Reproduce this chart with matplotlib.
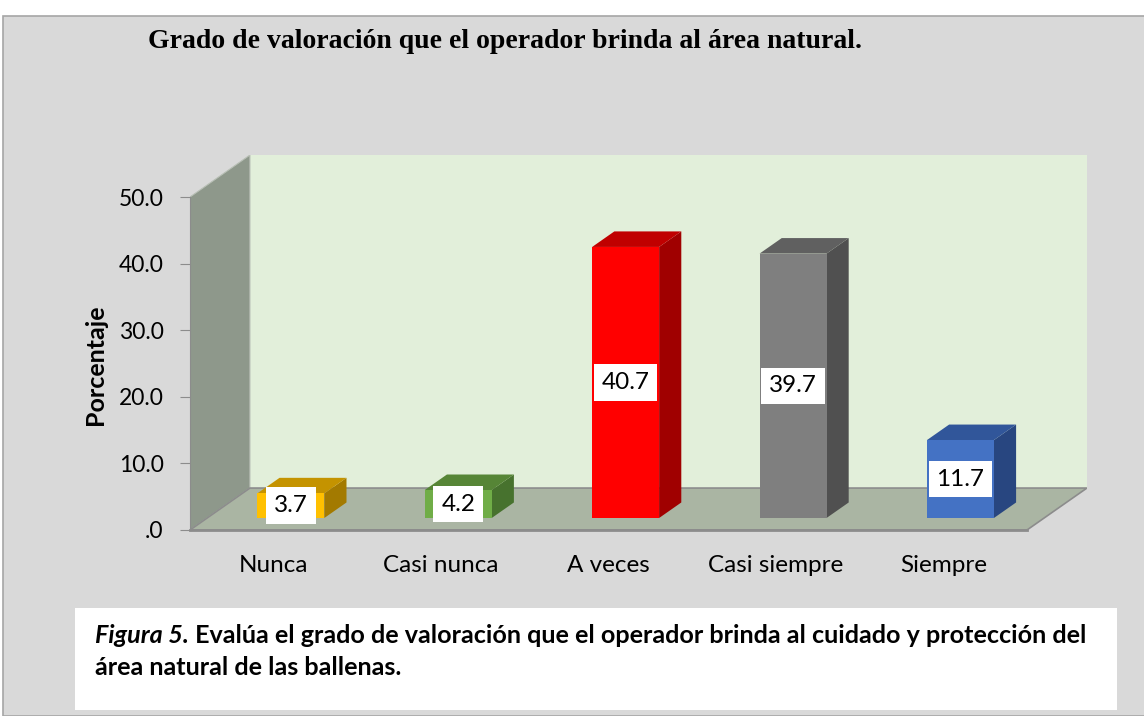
import matplotlib
matplotlib.use("Agg")
import matplotlib.pyplot as plt
from matplotlib.patches import Polygon, Rectangle
from matplotlib.text import Annotation
import numpy as np

categories = ["Nunca", "Casi nunca", "A veces", "Casi siempre", "Siempre"]
values = [3.7, 4.2, 40.7, 39.7, 11.7]
front_colors = ["#FFC000", "#70AD47", "#FF0000", "#7F7F7F", "#4472C4"]
top_colors = ["#C49300", "#568536", "#C00000", "#606060", "#31569A"]
side_colors = ["#A37A00", "#47722E", "#A00000", "#505050", "#284680"]
y_ticks = [0, 10, 20, 30, 40, 50]
title = "Grado de valoración que el operador brinda al área natural."
caption_head = "Figura 5."
caption_body = " Evalúa el grado de valoración que el operador brinda al cuidado y protección del"
caption_line2 = "área natural de las ballenas."

W, H = 1144, 716
SANS = ["Lato", "DejaVu Sans"]
SERIF = ["Liberation Serif", "DejaVu Serif"]

# pseudo 3d geometry (category units / percent units)
ymax = 50
DX, DY = 0.358, 6.3          # full depth of the floor
f0, depth, w = 0.286, 0.37, 0.40
px_cat, px_val = 167.4, 6.66  # pixels per category / per percent
x0_px, y0_px = 190, 530       # front-left corner of the floor


def fx(px):
    return px / W


def fy(py):
    return 1 - py / H


fig = plt.figure(figsize=(W / 100, H / 100), dpi=100)
fig.patch.set_facecolor("white")
fig.patches.append(Rectangle((fx(3), 0), fx(1150), fy(16), transform=fig.transFigure,
                             facecolor="#D9D9D9", edgecolor="#A6A6A6", linewidth=1.2, zorder=-2))
fig.patches.append(Rectangle((fx(75), fy(710)), fx(1117 - 75), (710 - 608) / H,
                             transform=fig.transFigure, facecolor="white", edgecolor="none", zorder=-1))

n = len(categories)
ax_w = (n + DX) * px_cat
ax_h = (ymax + DY) * px_val
ax = fig.add_axes([fx(x0_px), fy(y0_px), ax_w / W, ax_h / H])
ax.set_xlim(0, n + DX)
ax.set_ylim(0, ymax + DY)
ax.patch.set_alpha(0)

# walls and floor
ax.add_patch(Polygon([(DX, DY), (n + DX, DY), (n + DX, ymax + DY), (DX, ymax + DY)],
                     closed=True, facecolor="#E2EFDA", edgecolor="none", zorder=1))
ax.add_patch(Polygon([(0, 0), (DX, DY), (DX, ymax + DY), (0, ymax)],
                     closed=True, facecolor="#8E988B", edgecolor="#B8BFB5", linewidth=0.8, zorder=1))
ax.add_patch(Polygon([(0, 0), (n, 0), (n + DX, DY), (DX, DY)],
                     closed=True, facecolor="#AAB5A3", edgecolor="#8C8C8C", linewidth=1.2, zorder=2))

# bars
centers = np.arange(n) + 0.5 + f0 * DX
base = f0 * DY
ax.bar(centers, values, width=w, bottom=base, color=front_colors, zorder=5)
for c, v, tc, sc in zip(centers, values, top_colors, side_colors):
    xl, xr, yt = c - w / 2, c + w / 2, base + v
    ddx, ddy = depth * DX, depth * DY
    ax.add_patch(Polygon([(xr, base), (xr + ddx, base + ddy), (xr + ddx, yt + ddy), (xr, yt)],
                         closed=True, facecolor=sc, edgecolor="none", zorder=4))
    ax.add_patch(Polygon([(xl, yt), (xr, yt), (xr + ddx, yt + ddy), (xl + ddx, yt + ddy)],
                         closed=True, facecolor=tc, edgecolor="none", zorder=4))
    ax.text(c, base + v / 2, f"{v:.1f}", ha="center", va="center", fontsize=17.5,
            family=SANS, zorder=7,
            bbox=dict(boxstyle="square,pad=0.32", facecolor="white", edgecolor="none"))

# axes
for s in ["top", "right"]:
    ax.spines[s].set_visible(False)
ax.spines["left"].set_bounds(0, ymax)
ax.spines["left"].set_color("#8C8C8C")
ax.spines["bottom"].set_bounds(0, n)
ax.spines["bottom"].set_color("#8C8C8C")
ax.spines["bottom"].set_linewidth(2)
ax.spines["left"].set_zorder(3)
ax.set_yticks(y_ticks)
ax.set_yticklabels([f"{t:.1f}" if t else ".0" for t in y_ticks], family=SANS, fontsize=16.5)
ax.tick_params(axis="y", length=7, color="#8C8C8C", pad=12)
ax.set_xticks(np.arange(n) + 0.5)
ax.set_xticklabels(categories, family=SANS, fontsize=17.5)
ax.tick_params(axis="x", length=0, pad=18)
ax.set_ylabel("Porcentaje", family=SANS, fontsize=18, fontweight="bold")
ax.yaxis.set_label_coords((107 - x0_px) / ax_w, (y0_px - 365) / ax_h)

fig.text(fx(148), fy(41), title, family=SERIF, fontsize=20, fontweight="bold", va="center")

# caption
head = fig.text(fx(95), fy(643), caption_head, family=SANS, fontsize=18.1,
                fontweight="bold", fontstyle="italic", va="baseline")
fig.add_artist(Annotation(caption_body, xy=(1, 0), xycoords=head, va="bottom", ha="left",
                          family=SANS, fontsize=18.1, fontweight="bold", annotation_clip=False))
fig.text(fx(95), fy(675), caption_line2, family=SANS, fontsize=18.1, fontweight="bold", va="baseline")

fig.savefig("out.png", dpi=100)
